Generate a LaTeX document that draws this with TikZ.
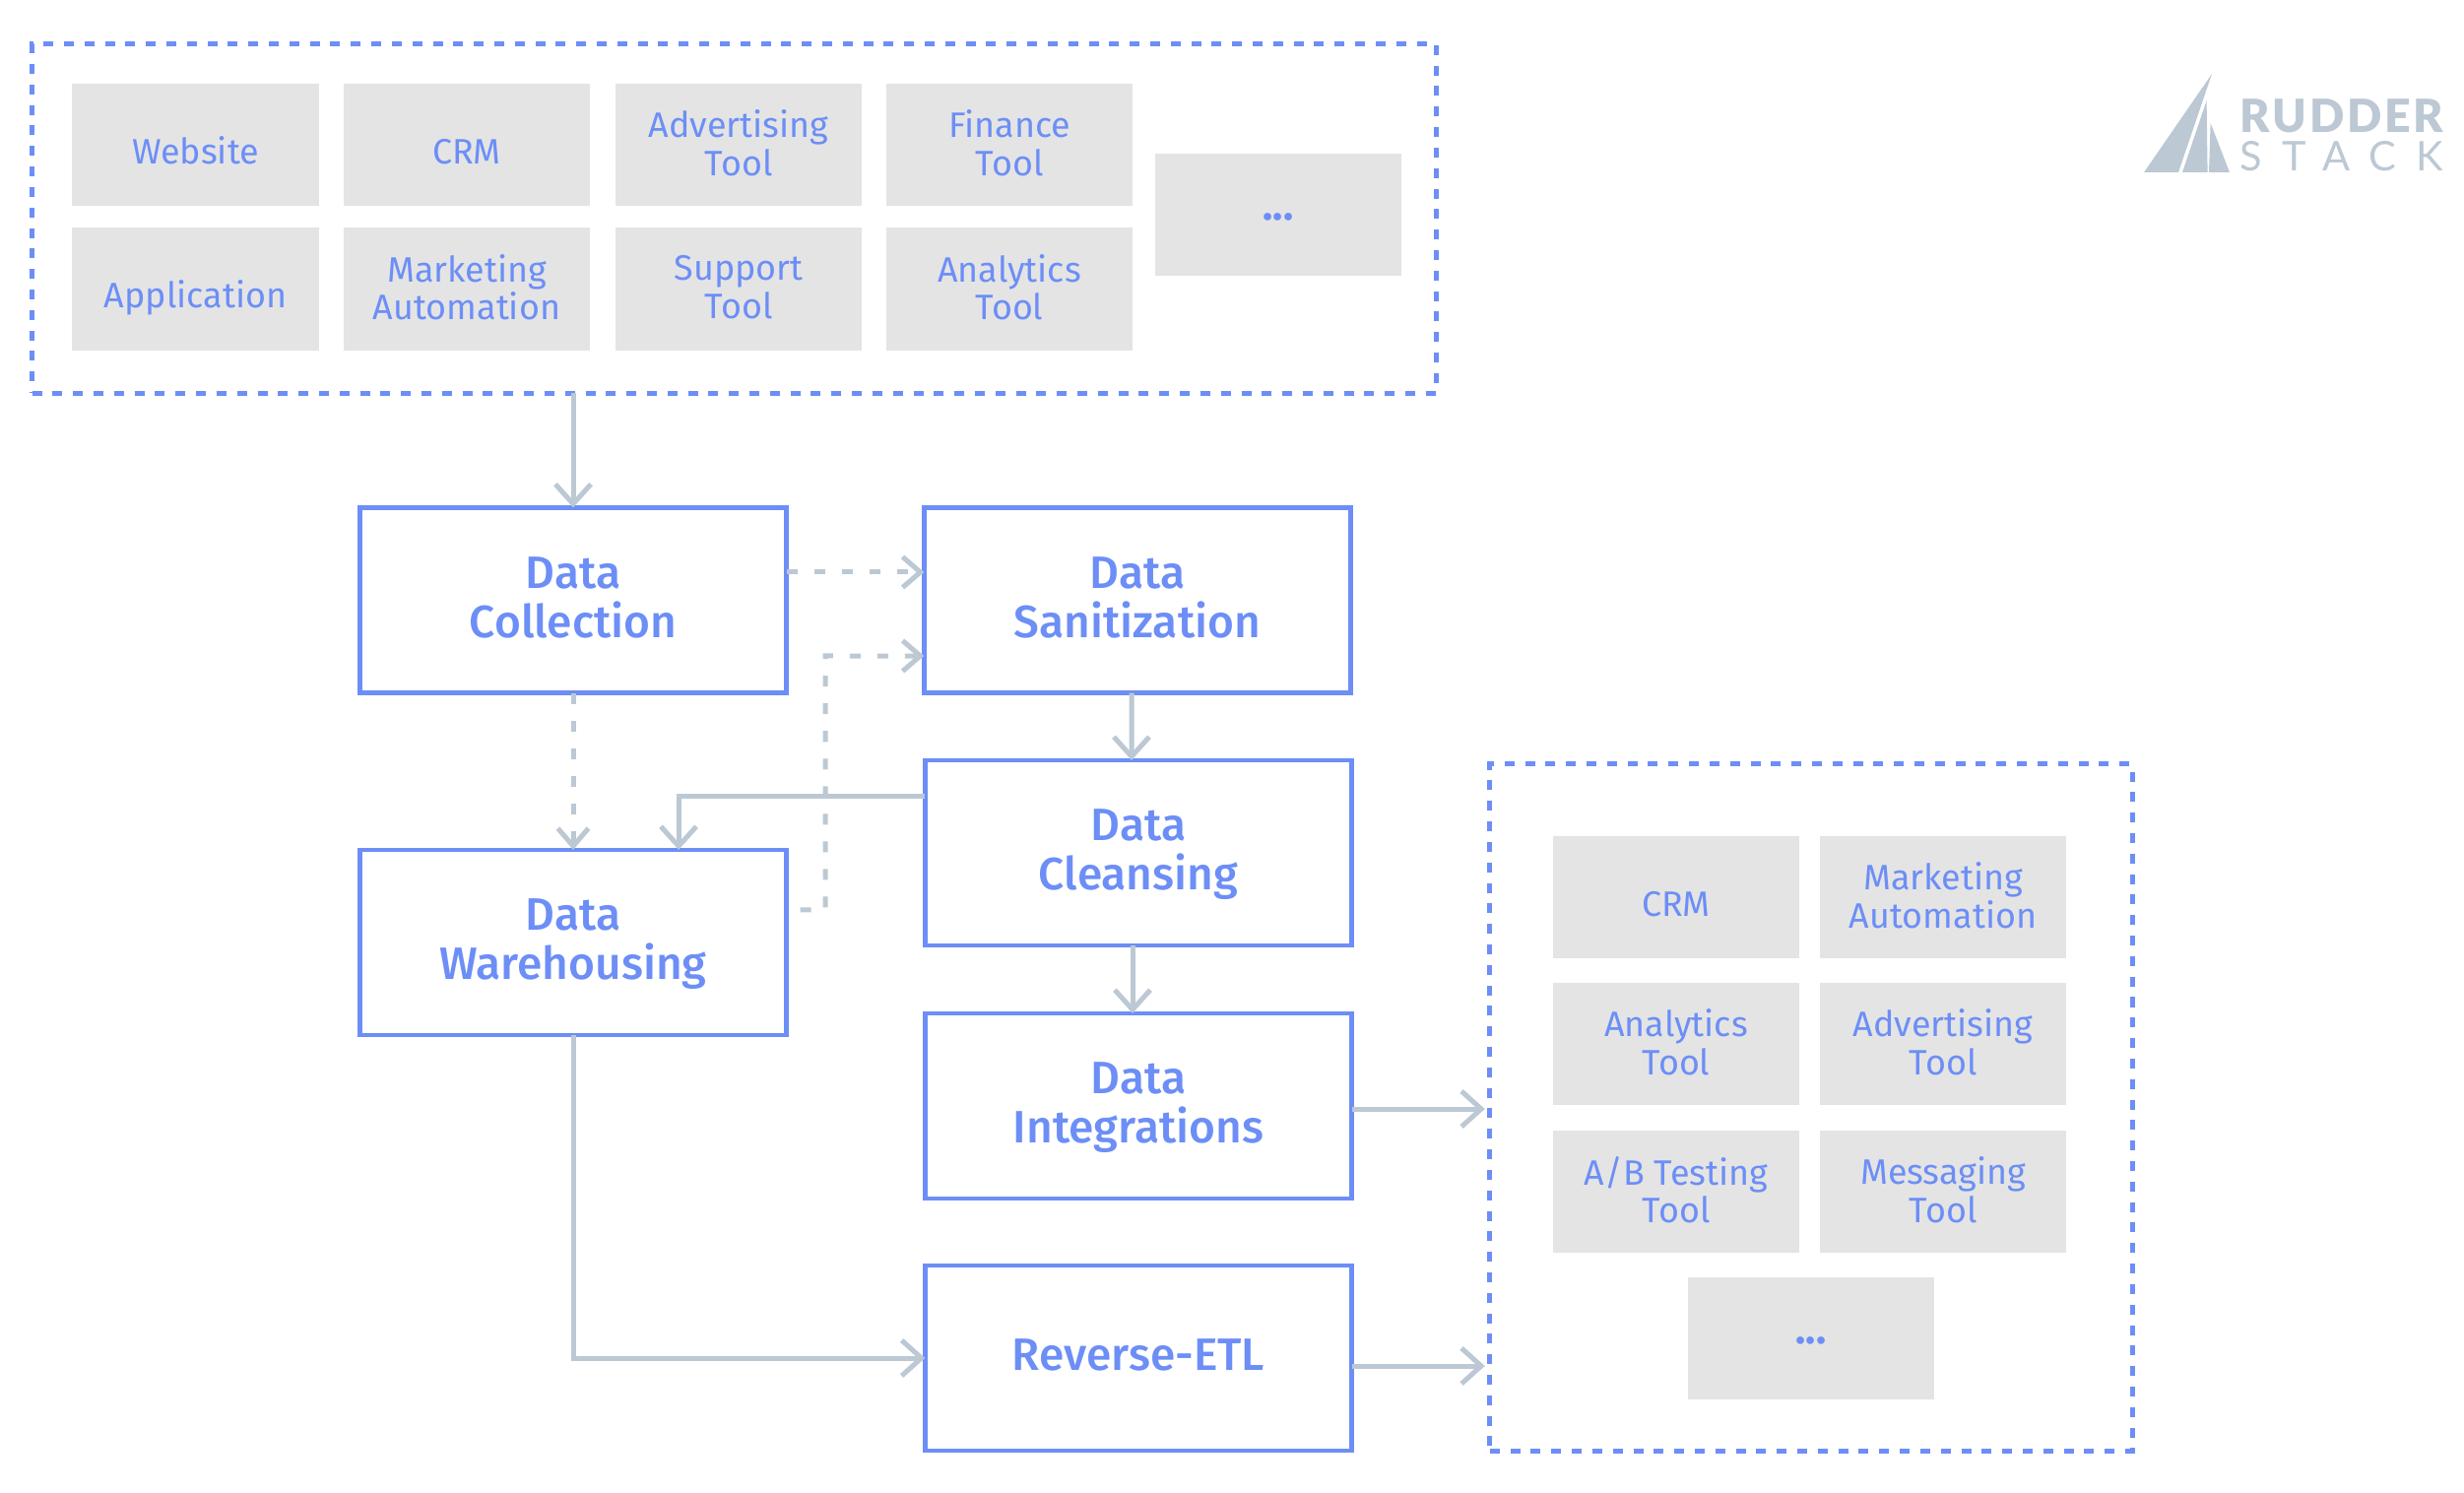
\documentclass[tikz,border=0pt]{standalone}
\usepackage{fontspec}
\setmainfont{Fira Sans}
\newfontfamily\stagefont{Fira Sans Medium}
\newfontfamily\logobold[LetterSpace=6]{Lato Black}
\newfontfamily\logolight[LetterSpace=48]{Lato}
\usetikzlibrary{arrows.meta}
\definecolor{flowblue}{HTML}{6C8EF6}
\definecolor{flowgrey}{HTML}{BCC8D3}
\definecolor{toolgrey}{HTML}{E4E4E4}
\tikzset{
    toolbox/.style={fill=toolgrey,text=flowblue,align=center,font=\fontsize{10.2}{11}\selectfont,minimum width=2.5cm,minimum height=1.24cm,inner sep=0pt,text depth=1.2pt},
    toolsingle/.style={toolbox,text height=11pt,text depth=0pt},
    tooldots/.style={toolbox,font=\fontsize{12}{12}\selectfont\bfseries,text height=3.2pt,text depth=0pt},
    stagebox/.style={draw=flowblue,line width=0.045cm,fill=white,text=flowblue,align=center,font=\stagefont\fontsize{13.1}{14.1}\selectfont,minimum width=4.33cm,minimum height=1.88cm,inner sep=0pt,outer sep=0pt,text depth=1.8pt},
    groupbox/.style={draw=flowblue,line width=0.05cm,dash pattern=on 0.1cm off 0.108cm,inner sep=0pt,outer sep=0pt},
    flowline/.style={draw=flowgrey,line width=0.05cm,-{Straight Barb[length=0.2cm,width=0.36cm]}},
    flowdash/.style={draw=flowgrey,line width=0.05cm,dash pattern=on 0.11cm off 0.17cm,-{Straight Barb[length=0.18cm,width=0.31cm,line width=0.05cm]}}
}
\begin{document}
\begin{tikzpicture}[x=0.01cm,y=-0.01cm]
        \useasboundingbox (0,0) rectangle (2502,1516);

        \node[groupbox,minimum width=14.25cm,minimum height=3.54cm] (sources) at (745.5,222) {};
        \node[toolsingle] (website) at (198.5,147) {Website};
        \node[toolsingle] (crmIn) at (474,147) {CRM};
        \node[toolbox] (adIn) at (750,147) {Advertising\\Tool};
        \node[toolbox] (finance) at (1025,147) {Finance\\Tool};
        \node[toolsingle] (application) at (198.5,293.5) {Application};
        \node[toolbox] (marketingIn) at (474,293.5) {Marketing\\Automation};
        \node[toolbox] (support) at (750,293.5) {Support\\Tool};
        \node[toolbox] (analyticsIn) at (1025,293.5) {Analytics\\Tool};
        \node[tooldots] (moreIn) at (1298,218) {...};

        \node[stagebox] (collection) at (582,609.5) {Data\\Collection};
        \node[stagebox] (sanitization) at (1155,609.5) {Data\\Sanitization};
        \node[stagebox] (cleansing) at (1156,866) {Data\\Cleansing};
        \node[stagebox] (integrations) at (1156,1123) {Data\\Integrations};
        \node[stagebox] (reverse) at (1156,1379) {Reverse-ETL};
        \node[stagebox] (warehousing) at (582,957) {Data\\Warehousing};

        \node[groupbox,minimum width=6.52cm,minimum height=6.97cm] (targets) at (1839,1124.5) {};
        \node[toolsingle] (crmOut) at (1702,911) {CRM};
        \node[toolbox] (marketingOut) at (1973,911) {Marketing\\Automation};
        \node[toolbox] (analyticsOut) at (1702,1060) {Analytics\\Tool};
        \node[toolbox] (adOut) at (1973,1060) {Advertising\\Tool};
        \node[toolbox] (abtest) at (1702,1210) {A/B Testing\\Tool};
        \node[toolbox] (messaging) at (1973,1210) {Messaging\\Tool};
        \node[tooldots] (moreOut) at (1839,1359) {...};

        \coordinate (bendLow) at (838,924);
        \coordinate (bendHigh) at (838,666);

        \draw[flowline] (sources.south -| collection.north) -- (collection.north);
        \draw[flowdash] ([yshift=0.285cm]collection.east) -- ([yshift=0.285cm]sanitization.west);
        \draw[flowdash] (collection.south) -- (warehousing.north);
        \draw[flowdash,dash phase=0.14cm] ([yshift=0.33cm]warehousing.east) -- (bendLow) -- (bendHigh) -- ([yshift=-0.565cm]sanitization.west);
        \draw[flowline] ([xshift=-0.06cm]sanitization.south) -- ([xshift=-0.07cm]cleansing.north);
        \draw[flowline] ([yshift=0.57cm]cleansing.west) -| ([xshift=1.07cm]warehousing.north);
        \draw[flowline] ([xshift=-0.06cm]cleansing.south) -- ([xshift=-0.06cm]integrations.north);
        \draw[flowline,shorten >=0.05cm] ([yshift=-0.03cm]integrations.east) -- ([yshift=-0.03cm]targets.west |- integrations.east);
        \draw[flowline] (warehousing.south) |- (reverse.west);
        \draw[flowline,shorten >=0.05cm] ([yshift=-0.08cm]reverse.east) -- ([yshift=-0.08cm]targets.west |- reverse.east);

        \fill[flowgrey] (2246,75) -- (2177,175) -- (2212,175) -- cycle;
        \fill[flowgrey] (2240.6,102) -- (2216,175) -- (2241.6,175) -- cycle;
        \fill[flowgrey] (2244.6,125) -- (2243,175) -- (2264,175) -- cycle;
        \node[anchor=base west,inner sep=0pt,text=flowgrey,font=\logobold\fontsize{13.2}{13.2}\selectfont] (logoTop) at (2274,135) {RUDDER};
        \node[anchor=base west,inner sep=0pt,text=flowgrey,font=\logolight\fontsize{11.8}{11.8}\selectfont] (logoBottom) at (2274,174) {STACK};
\end{tikzpicture}
\end{document}
